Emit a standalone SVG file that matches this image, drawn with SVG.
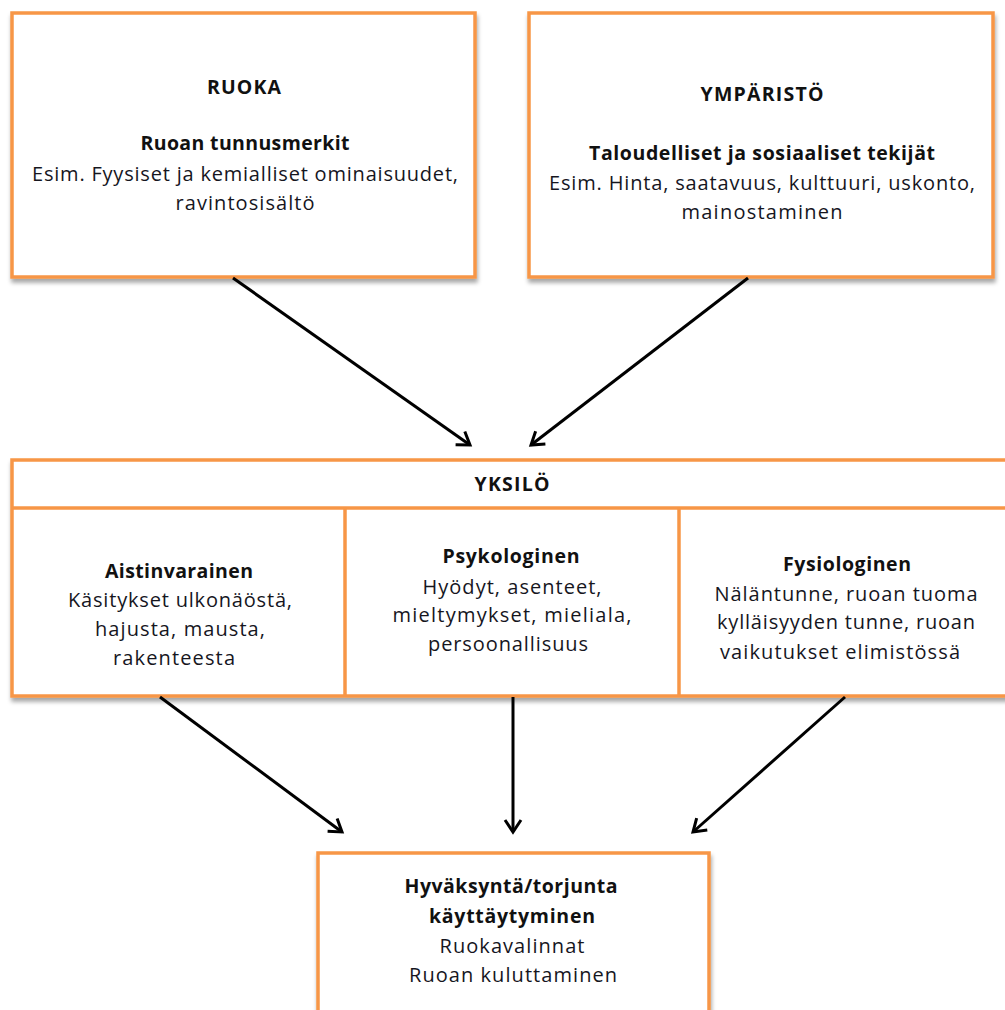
<svg xmlns="http://www.w3.org/2000/svg" width="1005" height="1010" viewBox="0 0 1005 1010">
<defs>
<filter id="sh" x="-5%" y="-5%" width="115%" height="120%">
<feDropShadow dx="1" dy="4" stdDeviation="2" flood-color="#000" flood-opacity="0.35"/>
</filter>
<marker id="ah" viewBox="0 0 20 20" refX="17" refY="10" markerWidth="20" markerHeight="20" markerUnits="userSpaceOnUse" orient="auto">
<path d="M5,2 L17,10 L5,18" fill="none" stroke="#000" stroke-width="3" stroke-linejoin="miter"/>
</marker>
<style>
.box{fill:#fff;stroke:#F79646;stroke-width:3.5}
.ln{stroke:#F79646;stroke-width:3.5}
text{font-family:"Open Sans","Liberation Sans",Arial,sans-serif;font-size:20px;fill:#16161e;text-anchor:middle}
.b{font-weight:bold;fill:#111;font-size:19.5px}
.c{stroke:#000;stroke-width:3;fill:none;marker-end:url(#ah)}
</style>
</defs>
<g id="ruoka">
<rect class="box" x="12" y="13" width="463" height="264" filter="url(#sh)"/>
<text class="b" x="244" y="94" textLength="74" lengthAdjust="spacing">RUOKA</text>
<text class="b" x="245" y="150" textLength="209" lengthAdjust="spacing">Ruoan tunnusmerkit</text>
<text x="245" y="181" textLength="426" lengthAdjust="spacing">Esim. Fyysiset ja kemialliset ominaisuudet,</text>
<text x="245" y="210" textLength="139" lengthAdjust="spacing">ravintosisältö</text>
</g>
<g id="ymparisto">
<rect class="box" x="529" y="13" width="464" height="264" filter="url(#sh)"/>
<text class="b" x="762" y="101" textLength="123" lengthAdjust="spacing">YMPÄRISTÖ</text>
<text class="b" x="762" y="160" textLength="346" lengthAdjust="spacing">Taloudelliset ja sosiaaliset tekijät</text>
<text x="762" y="190" textLength="426" lengthAdjust="spacing">Esim. Hinta, saatavuus, kulttuuri, uskonto,</text>
<text x="762" y="219" textLength="161" lengthAdjust="spacing">mainostaminen</text>
</g>
<g id="yksilo">
<rect class="box" x="12" y="460" width="1000" height="236" filter="url(#sh)"/>
<line class="ln" x1="12" y1="508" x2="1010" y2="508"/>
<text class="b" x="512" y="491" textLength="75" lengthAdjust="spacing">YKSILÖ</text>
</g>
<g id="aistinvarainen">
<line class="ln" x1="345" y1="508" x2="345" y2="696"/>
<text class="b" x="179" y="578" textLength="148" lengthAdjust="spacing">Aistinvarainen</text>
<text x="180" y="607" textLength="224" lengthAdjust="spacing">Käsitykset ulkonäöstä,</text>
<text x="180" y="636" textLength="170" lengthAdjust="spacing">hajusta, mausta,</text>
<text x="174" y="665" textLength="122" lengthAdjust="spacing">rakenteesta</text>
</g>
<g id="psykologinen">
<line class="ln" x1="679" y1="508" x2="679" y2="696"/>
<text class="b" x="511" y="563" textLength="137" lengthAdjust="spacing">Psykologinen</text>
<text x="512" y="594" textLength="179" lengthAdjust="spacing">Hyödyt, asenteet,</text>
<text x="512" y="622" textLength="239" lengthAdjust="spacing">mieltymykset, mieliala,</text>
<text x="508" y="651" textLength="160" lengthAdjust="spacing">persoonallisuus</text>
</g>
<g id="fysiologinen">
<text class="b" x="847" y="571" textLength="128" lengthAdjust="spacing">Fysiologinen</text>
<text x="846" y="601" textLength="263" lengthAdjust="spacing">Näläntunne, ruoan tuoma</text>
<text x="846" y="629" textLength="258" lengthAdjust="spacing">kylläisyyden tunne, ruoan</text>
<text x="840" y="659" textLength="240" lengthAdjust="spacing">vaikutukset elimistössä</text>
</g>
<g id="tulos">
<rect class="box" x="318" y="853" width="391" height="170" filter="url(#sh)"/>
<text class="b" x="511" y="893" textLength="213" lengthAdjust="spacing">Hyväksyntä/torjunta</text>
<text class="b" x="512" y="923" textLength="166" lengthAdjust="spacing">käyttäytyminen</text>
<text x="512" y="953" textLength="145" lengthAdjust="spacing">Ruokavalinnat</text>
<text x="513" y="982" textLength="208" lengthAdjust="spacing">Ruoan kuluttaminen</text>
</g>
<g id="connectors">
<line class="c" x1="233" y1="278" x2="470" y2="445"/>
<line class="c" x1="748" y1="278" x2="531" y2="445"/>
<line class="c" x1="160" y1="697" x2="342" y2="832"/>
<line class="c" x1="513" y1="697" x2="513" y2="832"/>
<line class="c" x1="845" y1="697" x2="693" y2="832"/>
</g>
</svg>
